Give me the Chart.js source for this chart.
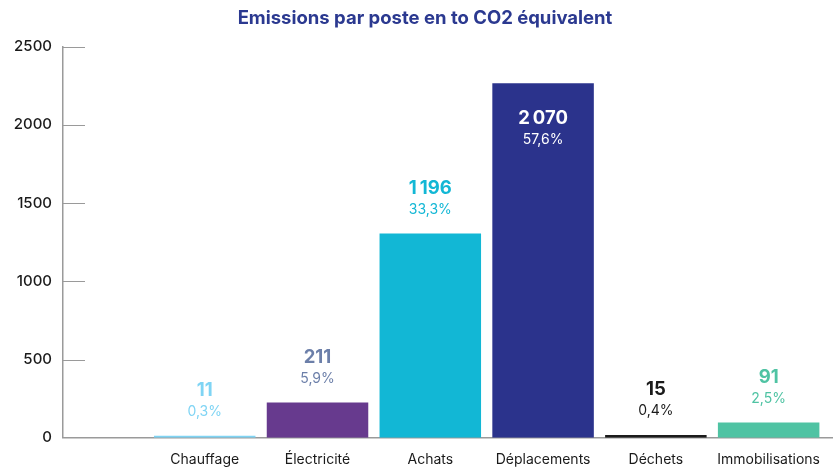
<!DOCTYPE html>
<html>
<head>
<meta charset="utf-8">
<script src="https://cdn.jsdelivr.net/npm/chart.js@4/dist/chart.umd.min.js"></script>
<style>
  html, body { margin: 0; padding: 0; background: #ffffff; }
  #wrap { width: 834px; height: 470px; }
</style>
</head>
<body>
<div id="wrap"><canvas id="c"></canvas></div>
<script>
// ---- data ----
const chartTitle = 'Emissions par poste en to CO2 équivalent';
const categories = ['Chauffage', 'Électricité', 'Achats', 'Déplacements', 'Déchets', 'Immobilisations'];
// bar heights as drawn against the axis in the picture
const barValues = [13, 225, 1306, 2266, 18, 97];
// printed labels
const valueLabels = ['11', '211', '1\u202F196', '2\u202F070', '15', '91'];
const shareLabels = ['0,3%', '5,9%', '33,3%', '57,6%', '0,4%', '2,5%'];
const yTicks = [0, 500, 1000, 1500, 2000, 2500];

const barColors = ['#7fd4f4', '#673a8e', '#12b7d5', '#2b338c', '#1b1b1b', '#4fc3a3'];
const labelColors = ['#7fd4f4', '#6c7fa9', '#12b7d5', '#ffffff', '#1b1b1b', '#4fc3a3'];
const FONT = 'Inter, "Noto Sans", sans-serif';

const innerTicks = {
  id: 'innerTicks',
  afterDraw(chart) {
    const { ctx, chartArea, scales } = chart;
    const y = scales.y;
    ctx.save();
    ctx.strokeStyle = '#9a9a9a';
    ctx.lineWidth = 1;
    yTicks.forEach(v => {
      if (v === 0) return;
      const py = Math.round(y.getPixelForValue(v)) + 0.5;
      ctx.beginPath();
      ctx.moveTo(chartArea.left, py);
      ctx.lineTo(chartArea.left + 22, py);
      ctx.stroke();
    });
    // title
    ctx.fillStyle = '#2b3990';
    ctx.font = '700 18.5px ' + FONT;
    ctx.textAlign = 'center';
    ctx.textBaseline = 'middle';
    ctx.fillText(chartTitle, chart.width / 2 + 8, 18);
    ctx.restore();
  }
};

const barLabels = {
  id: 'barLabels',
  afterDatasetsDraw(chart) {
    const { ctx } = chart;
    const meta = chart.getDatasetMeta(0);
    ctx.save();
    ctx.textAlign = 'center';
    ctx.textBaseline = 'middle';
    meta.data.forEach((bar, i) => {
      const h = bar.base - bar.y;
      const inside = h > 300;
      const yVal = inside ? bar.y + 35 : bar.y - 45;
      const yPct = inside ? bar.y + 56 : bar.y - 24;
      ctx.fillStyle = labelColors[i];
      ctx.font = '700 18.5px ' + FONT;
      ctx.fillText(valueLabels[i], bar.x, yVal);
      ctx.font = '400 14px ' + FONT;
      ctx.fillText(shareLabels[i], bar.x, yPct);
    });
    ctx.restore();
  }
};

new Chart(document.getElementById('c'), {
  type: 'bar',
  data: {
    datasets: [{
      data: barValues.map((v, i) => ({ x: i + 1, y: v })),
      backgroundColor: barColors,
      borderWidth: 0,
      categoryPercentage: 1,
      barPercentage: 0.9
    }]
  },
  options: {
    responsive: true,
    maintainAspectRatio: false,
    animation: false,
    layout: { padding: { top: 46.7 } },
    plugins: {
      legend: { display: false },
      tooltip: { enabled: false },
      title: { display: false }
    },
    scales: {
      x: {
        type: 'linear',
        bounds: 'data',
        offset: false,
        min: -0.2566,
        max: 6.566,
        grid: { display: false, drawTicks: false },
        border: { display: true, color: '#9a9a9a', width: 1.5 },
        afterBuildTicks(scale) {
          scale.ticks = categories.map((c, i) => ({ value: i + 1 }));
        },
        ticks: {
          padding: 14,
          color: '#1a1a1a',
          font: { family: FONT, size: 14, weight: '400' },
          callback: (v) => categories[Math.round(v) - 1] || '',
          maxRotation: 0,
          autoSkip: false
        },
        afterFit(scale) { scale.height = 32.3; }
      },
      y: {
        min: 0,
        max: 2500,
        bounds: 'data',
        grid: { display: false, drawTicks: false },
        border: { display: true, color: '#9a9a9a', width: 1.5 },
        afterBuildTicks(scale) {
          scale.ticks = yTicks.map(v => ({ value: v }));
        },
        ticks: {
          padding: 11,
          color: '#1a1a1a',
          font: { family: FONT, size: 15, weight: '500' },
          callback: (v) => String(v)
        },
        afterFit(scale) { scale.width = 63; }
      }
    }
  },
  plugins: [innerTicks, barLabels]
});
</script>
</body>
</html>
